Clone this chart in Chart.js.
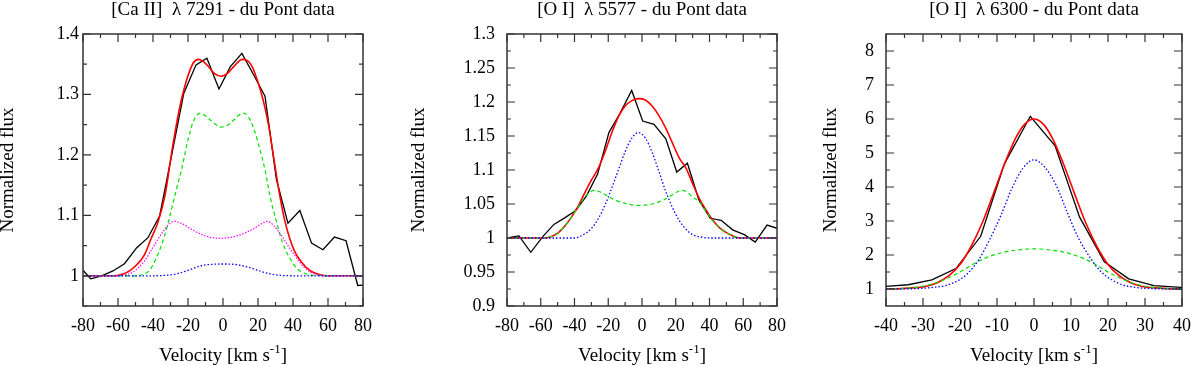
<!DOCTYPE html>
<html>
<head>
<meta charset="utf-8">
<title>du Pont line profiles</title>
<script src="https://cdn.jsdelivr.net/npm/chart.js@4.4.1/dist/chart.umd.min.js"></script>
<style>
  html, body { margin: 0; padding: 0; background: #fff; }
  #wrap { position: relative; width: 1200px; height: 366px; overflow: hidden; }
  #wrap canvas { position: absolute; top: 0; }
</style>
</head>
<body>
<div id="wrap">
  <canvas id="caII" width="400" height="366" style="left:0"></canvas>
  <canvas id="oI5577" width="400" height="366" style="left:400px"></canvas>
  <canvas id="oI6300" width="400" height="366" style="left:800px"></canvas>
</div>
<script>
// ---- [Ca II] 7291 ----
const caObsVel = [-82.5, -75.6, -69.3, -62.9, -56.3, -49.4, -42.9, -36.2, -29.3, -22.4, -15.4, -9.2, -2.3, 4.2, 10.8, 17.4, 24.0, 30.5, 37.1, 43.9, 50.6, 57.1, 63.7, 70.3, 77.0, 83.5]
const caObsFlux = [1.017, 0.995, 1.000, 1.008, 1.020, 1.046, 1.063, 1.099, 1.200, 1.302, 1.349, 1.360, 1.309, 1.346, 1.368, 1.333, 1.297, 1.160, 1.087, 1.108, 1.054, 1.043, 1.064, 1.058, 0.984, 0.985]
const caFitVel = [-80, -62, -57, -53, -49, -45, -41, -37, -33, -29, -25, -21, -17, -14, -11, -8, -5, -1, 3, 7, 11, 14, 17, 20, 23, 26, 29, 32, 35, 38, 41, 45, 50, 55, 60, 80]
const caFitFlux = [1.000, 1.000, 1.003, 1.009, 1.019, 1.034, 1.062, 1.090, 1.135, 1.210, 1.275, 1.322, 1.352, 1.358, 1.354, 1.345, 1.335, 1.330, 1.336, 1.349, 1.358, 1.356, 1.344, 1.320, 1.290, 1.250, 1.195, 1.140, 1.095, 1.063, 1.040, 1.022, 1.008, 1.002, 1.000, 1.000]
const caGreenVel = [-80, -50, -45, -42, -38, -35, -32, -29, -26, -23.5, -20, -17, -13, -9, -5, -1, 3, 7, 11, 14, 18, 21, 24, 27, 30.5, 34, 38, 42, 46, 50, 80]
const caGreenFlux = [1.0, 1.0, 1.003, 1.009, 1.030, 1.052, 1.080, 1.115, 1.150, 1.178, 1.225, 1.255, 1.269, 1.262, 1.252, 1.246, 1.250, 1.260, 1.269, 1.265, 1.240, 1.210, 1.175, 1.130, 1.090, 1.055, 1.030, 1.013, 1.005, 1.001, 1.0]
const caMagentaVel = [-80, -60, -55, -51, -45, -40, -35, -31, -27.5, -24, -18, -12, -6, -1, 5, 11, 17, 22, 25.5, 29, 33.5, 38, 42, 46, 50, 55, 60, 80]
const caMagentaFlux = [1.0, 1.0, 1.002, 1.007, 1.024, 1.047, 1.070, 1.085, 1.090, 1.087, 1.077, 1.068, 1.063, 1.062, 1.064, 1.069, 1.077, 1.086, 1.090, 1.083, 1.066, 1.046, 1.030, 1.015, 1.006, 1.001, 1.0, 1.0]
const caBlueVel = [-80, -40, -32, -27, -22, -17, -12, -6, 0, 6, 12, 17, 22, 27, 32, 40, 80]
const caBlueFlux = [1.0, 1.0, 1.001, 1.003, 1.007, 1.012, 1.017, 1.019, 1.0195, 1.019, 1.016, 1.012, 1.007, 1.003, 1.001, 1.0, 1.0]

// ---- [O I] 5577 ----
const o5ObsVel = [-80, -72.9, -65.9, -58.8, -52.2, -45.6, -39.4, -32.9, -26.3, -19.6, -13.1, -6.1, 0.4, 7.1, 14.1, 20.6, 26.9, 33.7, 40.4, 46.9, 53.7, 60.6, 67.1, 74.1, 80.5]
const o5ObsFlux = [1.000, 1.003, 0.979, 1.002, 1.020, 1.030, 1.040, 1.062, 1.094, 1.155, 1.183, 1.217, 1.172, 1.167, 1.146, 1.097, 1.110, 1.056, 1.029, 1.026, 1.012, 1.005, 0.994, 1.019, 1.014]
const o5FitVel = [-80, -58, -54, -50, -46, -42, -38, -34, -30, -26, -22, -18, -14, -10, -6, -2, 2, 6, 10, 14, 18, 22, 26, 30, 34, 38, 42, 46, 50, 54, 58, 80]
const o5FitFlux = [1.0, 1.0, 1.002, 1.007, 1.017, 1.030, 1.046, 1.066, 1.085, 1.102, 1.126, 1.154, 1.178, 1.194, 1.202, 1.205, 1.203, 1.194, 1.180, 1.162, 1.140, 1.118, 1.103, 1.080, 1.058, 1.041, 1.026, 1.015, 1.008, 1.003, 1.0, 1.0]
const o5GreenVel = [-80, -58, -54, -50, -46, -42, -38, -34, -31, -28.5, -25, -20, -15, -10, -2, 6, 12, 17, 21, 24, 27, 30, 34, 38, 42, 46, 50, 54, 58, 80]
const o5GreenFlux = [1.0, 1.0, 1.002, 1.007, 1.017, 1.030, 1.045, 1.060, 1.067, 1.070, 1.068, 1.061, 1.055, 1.051, 1.048, 1.050, 1.055, 1.062, 1.068, 1.070, 1.067, 1.060, 1.053, 1.039, 1.025, 1.015, 1.008, 1.003, 1.0, 1.0]
const o5BlueVel = [-80, -40, -34, -30, -26, -22, -18, -14, -10, -6, -2, 2, 6, 10, 14, 18, 22, 26, 30, 36, 40, 80]
const o5BlueFlux = [1.0, 1.0, 1.006, 1.014, 1.028, 1.048, 1.073, 1.100, 1.127, 1.147, 1.155, 1.147, 1.126, 1.098, 1.069, 1.045, 1.026, 1.013, 1.005, 1.001, 1.0, 1.0]

// ---- [O I] 6300 ----
const o6ObsVel = [-40.2, -34.0, -27.6, -21.1, -14.4, -8.0, -1.0, 5.7, 12.3, 19.0, 25.6, 32.4, 39.7, 46.0]
const o6ObsFlux = [1.078, 1.125, 1.27, 1.60, 2.55, 4.68, 6.08, 5.21, 3.12, 1.80, 1.30, 1.10, 1.05, 1.04]
const o6FitVel = [-40, -36, -32, -29, -26, -23, -20, -17, -14, -11, -8, -5, -2.5, 0, 2.5, 5, 8, 11, 14, 17, 20, 23, 26, 29, 32, 36, 40]
const o6FitFlux = [1.00, 1.01, 1.04, 1.08, 1.19, 1.39, 1.72, 2.25, 2.94, 3.79, 4.67, 5.43, 5.85, 6.00, 5.85, 5.43, 4.67, 3.79, 2.94, 2.25, 1.72, 1.39, 1.19, 1.08, 1.04, 1.01, 1.00]
const o6GreenVel = [-40, -35, -30, -25, -20, -15, -10, -5, 0, 5, 10, 15, 20, 25, 30, 35, 40]
const o6GreenFlux = [1.0, 1.02, 1.08, 1.24, 1.50, 1.82, 2.03, 2.14, 2.18, 2.14, 2.03, 1.82, 1.50, 1.24, 1.08, 1.02, 1.0]
const o6BlueVel = [-40, -32, -28, -24, -21, -18, -15, -12, -9, -6, -3, 0, 3, 6, 9, 12, 15, 18, 21, 24, 28, 32, 40]
const o6BlueFlux = [1.0, 1.01, 1.04, 1.10, 1.22, 1.45, 1.85, 2.45, 3.15, 3.95, 4.55, 4.80, 4.57, 4.05, 3.25, 2.50, 1.95, 1.52, 1.27, 1.12, 1.04, 1.01, 1.0]

// ---- axis ticks ----
const velTicksWide = [-80, -60, -40, -20, 0, 20, 40, 60, 80]
const velMinorWide = [-70, -50, -30, -10, 10, 30, 50, 70]
const velTicksNarrow = [-40, -30, -20, -10, 0, 10, 20, 30, 40]
const velMinorNarrow = [-35, -25, -15, -5, 5, 15, 25, 35]
const caFluxTicks = [1, 1.1, 1.2, 1.3, 1.4]
const caFluxMinor = [0.95, 1.05, 1.15, 1.25, 1.35]
const o5FluxTicks = [0.9, 0.95, 1, 1.05, 1.1, 1.15, 1.2, 1.25, 1.3]
const o5FluxMinor = [0.925, 0.975, 1.025, 1.075, 1.125, 1.175, 1.225, 1.275]
const o6FluxTicks = [1, 2, 3, 4, 5, 6, 7, 8]
const o6FluxMinor = [1.5, 2.5, 3.5, 4.5, 5.5, 6.5, 7.5]

const serif = "'Liberation Serif', 'Times New Roman', serif"
const RED = "#ff0000", GREEN = "#00e000", BLUE = "#0000ff", MAGENTA = "#ff00ff"

function curve(vel, flux, color, width, dash, smooth) {
  return {
    data: vel.map((v, i) => ({ x: v, y: flux[i] })),
    showLine: true,
    borderColor: color,
    borderWidth: width,
    borderDash: dash || [],
    pointRadius: 0,
    pointHoverRadius: 0,
    tension: 0,
    cubicInterpolationMode: smooth ? "monotone" : "default",
    clip: 0,
  }
}

// inward ticks on all four sides plus the box
const frameTicks = {
  id: "frameTicks",
  afterDatasetsDraw(chart, args, opts) {
    const { ctx, chartArea: a } = chart
    const xs = chart.scales.x, ys = chart.scales.y
    ctx.save()
    ctx.strokeStyle = "#333"
    ctx.lineWidth = 1.2
    ctx.beginPath()
    const xt = (vals, len) => vals.forEach(v => {
      const p = xs.getPixelForValue(v)
      ctx.moveTo(p, a.bottom); ctx.lineTo(p, a.bottom - len)
      ctx.moveTo(p, a.top); ctx.lineTo(p, a.top + len)
    })
    const yt = (vals, len) => vals.forEach(v => {
      const p = ys.getPixelForValue(v)
      ctx.moveTo(a.left, p); ctx.lineTo(a.left + len, p)
      ctx.moveTo(a.right, p); ctx.lineTo(a.right - len, p)
    })
    xt(opts.xMajor, 8); xt(opts.xMinor, 4)
    yt(opts.yMajor, 8); yt(opts.yMinor, 4)
    ctx.stroke()
    ctx.lineWidth = 1.5
    ctx.strokeRect(a.left, a.top, a.right - a.left, a.bottom - a.top)
    ctx.restore()
  }
}

// panel title, y title and x title with superscript
const panelText = {
  id: "panelText",
  afterDraw(chart, args, opts) {
    const { ctx, chartArea: a } = chart
    ctx.save()
    ctx.fillStyle = "#000"
    ctx.textAlign = "center"
    ctx.textBaseline = "alphabetic"
    ctx.font = "19px " + serif
    ctx.fillText(opts.title, (a.left + a.right) / 2, 15)

    // x title: Velocity [km s^-1]
    const main = "Velocity [km s", sup = "-1", tail = "]"
    ctx.font = "19px " + serif
    const w1 = ctx.measureText(main).width, w3 = ctx.measureText(tail).width
    ctx.font = "13px " + serif
    const w2 = ctx.measureText(sup).width
    let x = (a.left + a.right) / 2 - (w1 + w2 + w3) / 2
    const base = a.bottom + 55
    ctx.textAlign = "left"
    ctx.font = "19px " + serif
    ctx.fillText(main, x, base)
    x += w1
    ctx.font = "13px " + serif
    ctx.fillText(sup, x, base - 8)
    x += w2
    ctx.font = "19px " + serif
    ctx.fillText(tail, x, base)

    // y title
    ctx.translate(a.left - opts.yTitleGap, (a.top + a.bottom) / 2)
    ctx.rotate(-Math.PI / 2)
    ctx.textAlign = "center"
    ctx.textBaseline = "middle"
    ctx.font = "19px " + serif
    ctx.fillText("Normalized flux", 0, 0)
    ctx.restore()
  }
}

const fmt = v => String(Number(Number(v).toFixed(3)))

function makePanel(id, p) {
  return new Chart(document.getElementById(id), {
    type: "scatter",
    data: { datasets: p.datasets },
    options: {
      responsive: false,
      animation: false,
      events: [],
      layout: { padding: { top: 34, right: p.padRight, bottom: 0, left: 0 } },
      plugins: {
        legend: { display: false },
        tooltip: { enabled: false },
        frameTicks: { xMajor: p.xMajor, xMinor: p.xMinor, yMajor: p.yMajor, yMinor: p.yMinor },
        panelText: { title: p.title, yTitleGap: p.yTitleGap },
      },
      scales: {
        x: {
          type: "linear",
          min: p.xMajor[0],
          max: p.xMajor[p.xMajor.length - 1],
          grid: { display: false, drawTicks: false },
          border: { display: false },
          afterBuildTicks: s => { s.ticks = p.xMajor.map(v => ({ value: v })) },
          afterFit: s => { s.height = 60 },
          ticks: { padding: 9, color: "#000", font: { family: serif, size: 18 }, maxRotation: 0, autoSkip: false, callback: fmt },
        },
        y: {
          type: "linear",
          min: p.yMin,
          max: p.yMax,
          grid: { display: false, drawTicks: false },
          border: { display: false },
          afterBuildTicks: s => { s.ticks = p.yMajor.map(v => ({ value: v })) },
          afterFit: s => { s.width = p.yWidth },
          ticks: { padding: p.yPad, color: "#000", font: { family: serif, size: 18 }, autoSkip: false, callback: fmt },
        },
      },
    },
    plugins: [frameTicks, panelText],
  })
}

// first dataset is drawn on top
makePanel("caII", {
  title: "[Ca II]  \u03bb 7291 - du Pont data",
  datasets: [
    curve(caBlueVel, caBlueFlux, BLUE, 1.3, [1.5, 2], true),
    curve(caMagentaVel, caMagentaFlux, MAGENTA, 1.2, [1.5, 1.5], true),
    curve(caGreenVel, caGreenFlux, GREEN, 1.2, [4, 3], true),
    curve(caFitVel, caFitFlux, RED, 1.6, null, true),
    curve(caObsVel, caObsFlux, "#000", 1.3, null, false),
  ],
  xMajor: velTicksWide, xMinor: velMinorWide,
  yMajor: caFluxTicks, yMinor: caFluxMinor,
  yMin: 0.95, yMax: 1.4,
  yWidth: 83, padRight: 37, yPad: 4, yTitleGap: 75,
})

makePanel("oI5577", {
  title: "[O I]  \u03bb 5577 - du Pont data",
  datasets: [
    curve(o5BlueVel, o5BlueFlux, BLUE, 1.3, [1.5, 2], true),
    curve(o5GreenVel, o5GreenFlux, GREEN, 1.2, [4, 3], true),
    curve(o5FitVel, o5FitFlux, RED, 1.6, null, true),
    curve(o5ObsVel, o5ObsFlux, "#000", 1.3, null, false),
  ],
  xMajor: velTicksWide, xMinor: velMinorWide,
  yMajor: o5FluxTicks, yMinor: o5FluxMinor,
  yMin: 0.9, yMax: 1.3,
  yWidth: 107, padRight: 23, yPad: 12, yTitleGap: 88,
})

makePanel("oI6300", {
  title: "[O I]  \u03bb 6300 - du Pont data",
  datasets: [
    curve(o6BlueVel, o6BlueFlux, BLUE, 1.3, [1.5, 2], true),
    curve(o6GreenVel, o6GreenFlux, GREEN, 1.2, [4, 3], true),
    curve(o6FitVel, o6FitFlux, RED, 1.6, null, true),
    curve(o6ObsVel, o6ObsFlux, "#000", 1.3, null, false),
  ],
  xMajor: velTicksNarrow, xMinor: velMinorNarrow,
  yMajor: o6FluxTicks, yMinor: o6FluxMinor,
  yMin: 0.5, yMax: 8.5,
  yWidth: 86, padRight: 12, yPad: 12, yTitleGap: 55,
})
</script>
</body>
</html>
